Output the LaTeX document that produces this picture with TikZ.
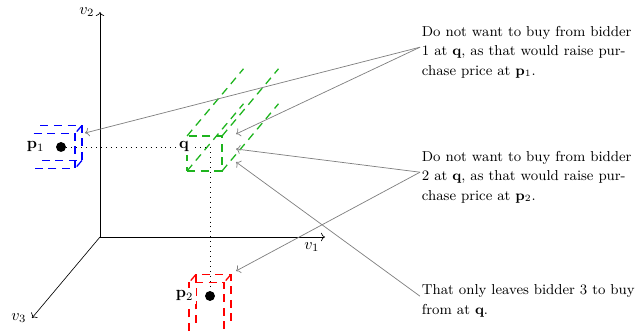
\documentclass[tikz,border=0pt]{standalone}
\usetikzlibrary{arrows.meta,positioning}
\definecolor{bidgreen}{RGB}{30,180,30}

\begin{document}
\begin{tikzpicture}[x=0.625pt,y=0.625pt,z={(-0.425pt,-0.506pt)},
  vaxis/.style={->}, guide/.style={dash pattern=on 0.5pt off 2.6pt},
  region/.style={thick,dash pattern=on 5pt off 3.5pt},
  note/.style={font=\fontsize{9}{12.2}\selectfont,align=left,anchor=west,inner sep=1pt},
  callout/.style={->,draw=gray,line width=0.45pt},
  plabel/.style={fill=white,inner sep=2pt},
  pdot/.style={circle,fill,inner sep=0pt,minimum size=6.2pt}]
  \useasboundingbox (-100,-94) rectangle (538,237);

  % axes
  \coordinate (O) at (0,0,0);
  \draw[vaxis] (O) -- (225,0,0) node[below left] {$v_1$};
  \draw[vaxis] (O) -- (0,225,0) node[left] {$v_2$};
  \draw[vaxis] (O) -- (0,0,100) node[left] {$v_3$};

  % bidder 1, open towards -v1
  \foreach \d in {-5,5}
    \draw[region,blue] (-63,107.5,\d) -- (-21.5,107.5,\d) -- (-21.5,72.5,\d) -- (-63,72.5,\d);
  \draw[region,blue] (-21.5,107.5,-5) -- (-21.5,107.5,5) (-21.5,72.5,-5) -- (-21.5,72.5,5);
  % bidder 2, open towards -v2
  \foreach \d in {-5,5}
    \draw[region,red] (92.5,-90,\d) -- (92.5,-41.5,\d) -- (127.5,-41.5,\d) -- (127.5,-90,\d);
  \draw[region,red] (92.5,-41.5,-5) -- (92.5,-41.5,5) (127.5,-41.5,-5) -- (127.5,-41.5,5);
  % bidder 3, open towards -v3
  \draw[region,bidgreen] (92.5,72.5,8) -- (127.5,72.5,8) -- (127.5,107.5,8) -- (92.5,107.5,8) -- cycle;
  \foreach \a/\b in {92.5/72.5,127.5/72.5,127.5/107.5,92.5/107.5}
    \draw[region,bidgreen] (\a,\b,8) -- (\a,\b,-75);

  % prices of bidders 1 and 2, and the point q
  \node[pdot] (p1) at (-39,90,0) {};
  \node[pdot] (p2) at (110,-59,0) {};
  \coordinate (q) at (110,90,0);
  \draw[guide] (p1) -- (q) -- (p2);
  \node[plabel,left=5pt of p1] (p1lab) {$\mathbf{p}_1$};
  \node[plabel,left=5pt of p2] (p2lab) {$\mathbf{p}_2$};
  \node[plabel,left=11pt of q] (qlab) {$\mathbf{q}$};

  \node[note] (t1) at (320,185)
    {Do not want to buy from bidder\\1 at $\mathbf{q}$, as that would raise pur-\\chase price at $\mathbf{p}_1$.};
  \node[note] (t2) at (320,60)
    {Do not want to buy from bidder\\2 at $\mathbf{q}$, as that would raise pur-\\chase price at $\mathbf{p}_2$.};
  \node[note] (t3) at (320,-64)
    {That only leaves bidder 3 to buy\\from at $\mathbf{q}$.};

  % callouts
  \coordinate (c1) at (-15,104);
  \coordinate (c3a) at (136,103);
  \coordinate (c3b) at (136,88);
  \coordinate (c3c) at (136,75);
  \coordinate (c2) at (136,-34);
  \draw[callout] ([yshift=3pt]t1.west) -- (c1);
  \draw[callout] ([yshift=3pt]t1.west) -- (c3a);
  \draw[callout] ([yshift=3pt]t2.west) -- (c3b);
  \draw[callout] ([yshift=3pt]t2.west) -- (c2);
  \draw[callout] ([yshift=3pt]t3.west) -- (c3c);
\end{tikzpicture}
\end{document}
